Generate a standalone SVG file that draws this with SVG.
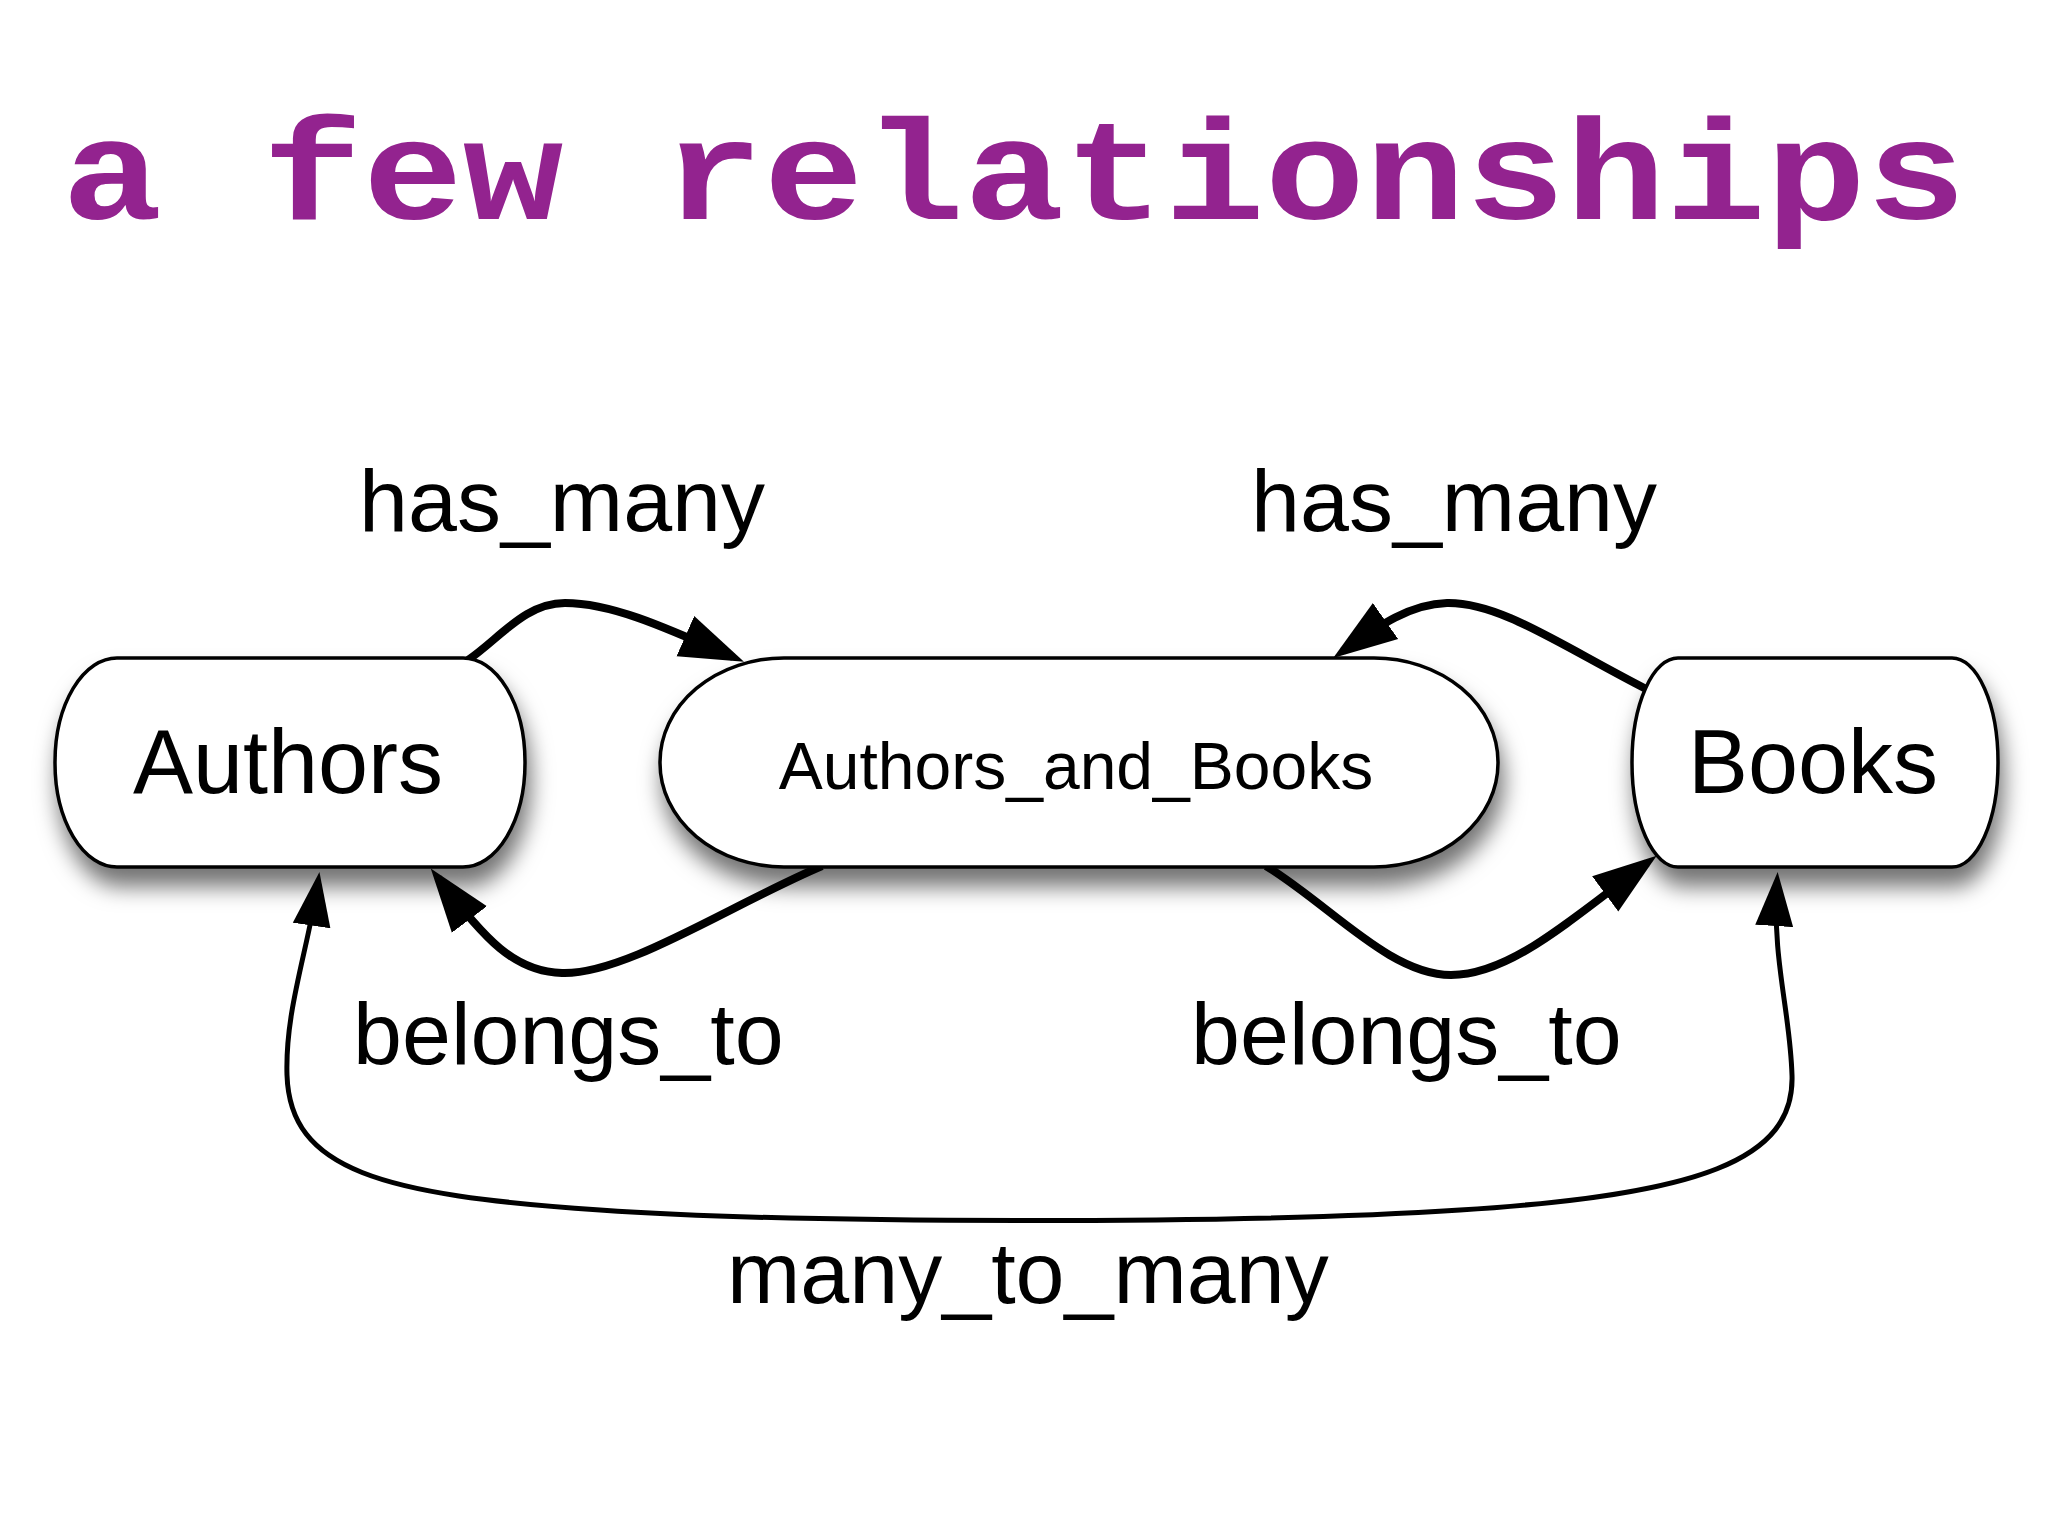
<svg xmlns="http://www.w3.org/2000/svg" width="2048" height="1536" viewBox="0 0 2048 1536">
<style>
.title{font-family:"Liberation Mono","Courier New",monospace;font-weight:bold;font-size:143px;fill:#93238F}
.node{fill:#fff;stroke:#000;stroke-width:3.5}
.big{font-family:"Liberation Sans",Arial,sans-serif;font-size:90px;fill:#000;text-anchor:middle}
.mid{font-family:"Liberation Sans",Arial,sans-serif;font-size:66px;fill:#000;text-anchor:middle}
.lbl{font-family:"Liberation Sans",Arial,sans-serif;font-size:88px;fill:#000}
.thick{fill:none;stroke:#000;stroke-width:8}
.thin{fill:none;stroke:#000;stroke-width:5}
</style>
<defs>
<filter id="sh" x="-10%" y="-20%" width="130%" height="170%">
<feDropShadow dx="4" dy="18" stdDeviation="11" flood-color="#000" flood-opacity="0.55"/>
</filter>
<marker id="ah" markerUnits="userSpaceOnUse" viewBox="0 0 64 48" markerWidth="64" markerHeight="48" refX="52" refY="24" orient="auto">
<path d="M0,2 L64,24 L0,46 Z" fill="#000"/>
</marker>
<marker id="as" markerUnits="userSpaceOnUse" viewBox="0 0 54 40" markerWidth="54" markerHeight="40" refX="44" refY="20" orient="auto-start-reverse">
<path d="M0,1 L54,20 L0,39 Z" fill="#000"/>
</marker>
</defs>
<rect width="2048" height="1536" fill="#fff"/>
<text class="title" transform="translate(62,219) scale(1.168,1)">a few relationships</text>

<g id="connectors">
<path id="e1" class="thick" d="M468,660 C500,638 525,603 565,603 C610,603 660,625 733,657" marker-end="url(#ah)"/>
<path id="e2" class="thick" d="M822,866 C730,905 625,975 562,973 C515,972 485,940 438,878" marker-end="url(#ah)"/>
<path id="e3" class="thick" d="M1648,690 C1560,645 1500,602 1447,603 C1410,604 1380,625 1343,651" marker-end="url(#ah)"/>
<path id="e4" class="thick" d="M1266,866 C1330,905 1390,975 1451,975 C1510,975 1570,920 1647,863" marker-end="url(#ah)"/>
<path id="e5" class="thin" d="M318,882 C308,950 285,1010 287,1075 C290,1170 380,1195 600,1210 C800,1224 1250,1224 1460,1210 C1700,1195 1795,1160 1792,1075 C1790,1010 1772,960 1777,882" marker-start="url(#as)" marker-end="url(#as)"/>
</g>

<g id="node-authors">
<rect class="node" filter="url(#sh)" x="55" y="658" width="470" height="209" rx="62" ry="104"/>
<text class="big" x="288" y="793">Authors</text>
</g>
<g id="node-authors-and-books">
<rect class="node" filter="url(#sh)" x="660" y="658" width="838" height="209" rx="124" ry="104"/>
<text class="mid" x="1076" y="789">Authors_and_Books</text>
</g>
<g id="node-books">
<rect class="node" filter="url(#sh)" x="1632" y="658" width="366" height="209" rx="46" ry="104"/>
<text class="big" x="1813" y="793">Books</text>
</g>

<g id="labels">
<text class="lbl" x="359" y="531">has_many</text>
<text class="lbl" x="1251" y="531">has_many</text>
<text class="lbl" x="353" y="1064">belongs_to</text>
<text class="lbl" x="1191" y="1064">belongs_to</text>
<text class="lbl" x="727" y="1303">many_to_many</text>
</g>
</svg>
